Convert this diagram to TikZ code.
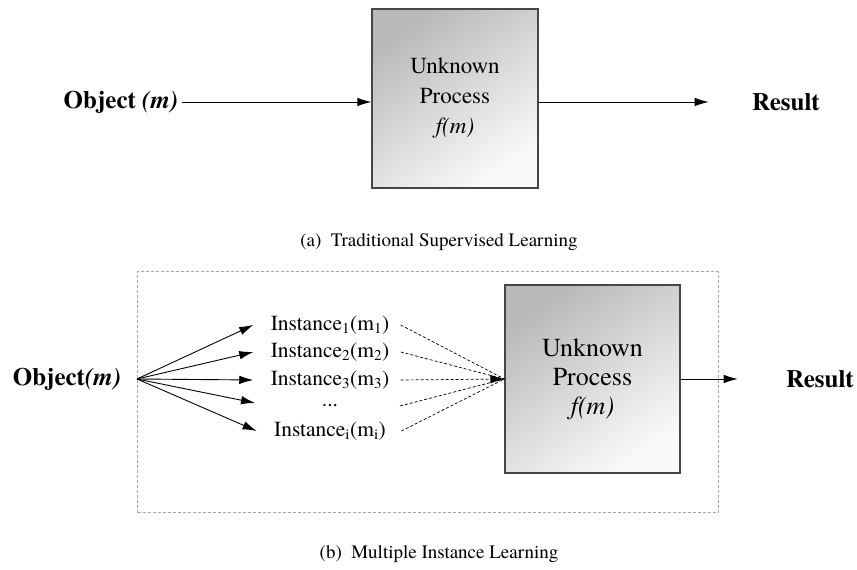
\documentclass[tikz,border=0pt]{standalone}
\usepackage{fontspec}
\setmainfont{texgyretermes}[Extension=.otf,UprightFont=*-regular,BoldFont=*-bold,ItalicFont=*-italic,BoldItalicFont=*-bolditalic]
\usetikzlibrary{arrows.meta}
\begin{document}
\begin{tikzpicture}[x=1pt,y=1pt,
    lbl/.style={font=\fontsize{25}{30}\selectfont\bfseries},
    inst/.style={font=\fontsize{21.5}{25}\selectfont},
    captxt/.style={font=\fontsize{19}{22}\selectfont},
    proc/.style={draw=gray!55!black,line width=1.2pt,top color=gray!55,bottom color=gray!4,
      shading angle=35,minimum width=166pt,minimum height=179pt,align=center,
      font=\fontsize{23}{30}\selectfont},
    arr/.style={-{Latex[length=14pt,width=8.5pt]},line width=0.9pt},
    dsh/.style={dash pattern=on 3pt off 2pt,line width=0.7pt}]
  \useasboundingbox (0,0) rectangle (857,570);
  % (a)
  \node[lbl] (obja) at (121,468) {Object \textit{(m)}};
  \node[proc] (proca) at (455,471.5) {Unknown\\Process\\\textit{f(m)}};
  \node[lbl] (resa) at (786,468) {Result};
  \draw[arr] (obja.east) -- (proca.west |- obja.east);
  \draw[arr] (proca.east |- resa.west) -- ([xshift=-40pt]resa.west);
  \node[captxt] (capa) at (439,328) {(a)~~Traditional Supervised Learning};
  % (b)
  \draw[gray!70,dsh,line width=1pt] (137,57) rectangle (718,298);
  \node[lbl] (objb) at (67,191) {Object\textit{(m)}};
  \coordinate (src) at (137,191);
  \node[proc,minimum width=175pt,minimum height=188pt,font=\fontsize{26}{29}\selectfont]
    (procb) at (592.5,191) {Unknown\\Process\\\textit{f(m)}};
  \node[lbl] (resb) at (820,191) {Result};
  \node[inst] (i1) at (330,245) {Instance\textsubscript{1}(m\textsubscript{1})};
  \node[inst] (i2) at (330,218) {Instance\textsubscript{2}(m\textsubscript{2})};
  \node[inst] (i3) at (330,190) {Instance\textsubscript{3}(m\textsubscript{3})};
  \node[inst] (dots) at (330,164) {...};
  \node[inst] (i5) at (330,139) {Instance\textsubscript{i}(m\textsubscript{i})};
  \coordinate (t4) at (255,167);
  \coordinate (d4) at (400,164);
  \begin{scope}[arr]
    \draw (src) -- ([xshift=-14pt]i1.west);
    \draw (src) -- ([xshift=-14pt]i2.west);
    \draw (src) -- ([xshift=-14pt]i3.west);
    \draw (src) -- (t4);
    \draw (src) -- ([xshift=-14pt]i5.west);
  \end{scope}
  \begin{scope}[dsh]
    \draw ([xshift=8pt]i1.east) -- (procb.west);
    \draw ([xshift=8pt]i2.east) -- (procb.west);
    \draw[-{Latex[length=14pt,width=8.5pt]}] ([xshift=8pt]i3.east) -- (procb.west);
    \draw (d4) -- (procb.west);
    \draw ([xshift=12pt]i5.east) -- (procb.west);
  \end{scope}
  \draw[arr] (procb.east) -- ([xshift=-45pt]resb.west);
  \node[captxt] (capb) at (439,16) {(b)~~Multiple Instance Learning};
\end{tikzpicture}
\end{document}
